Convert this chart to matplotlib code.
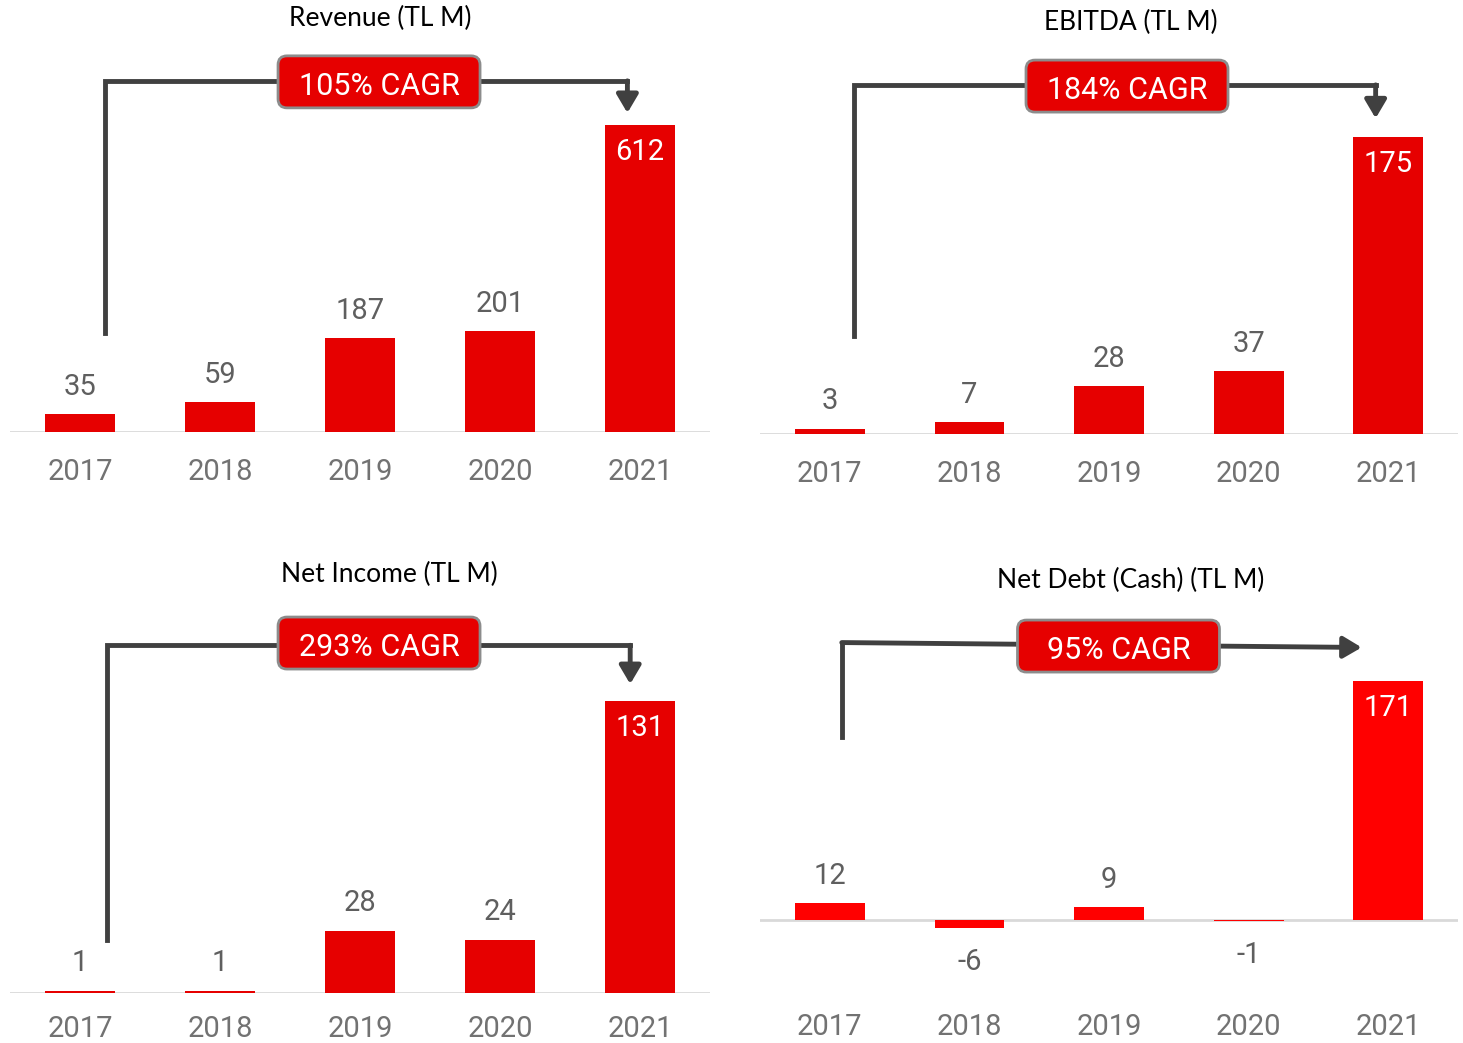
import matplotlib.pyplot as plt
from matplotlib.patches import FancyBboxPatch
from matplotlib.transforms import ScaledTranslation

W, H = 1463, 1043

years = ['2017', '2018', '2019', '2020', '2021']
revenue = [35, 59, 187, 201, 612]
ebitda = [3, 7, 28, 37, 175]
net_income = [1, 1, 28, 24, 131]
net_debt = [12, -6, 9, -1, 171]

titles = ['Revenue (TL M)', 'EBITDA (TL M)', 'Net Income (TL M)', 'Net Debt (Cash) (TL M)']
cagr_labels = ['105% CAGR', '184% CAGR', '293% CAGR', '95% CAGR']

RED = '#E60000'
BRIGHT_RED = '#FF0000'
DARK = '#404040'
GREY_TXT = '#5F5F5F'
YEAR_TXT = '#727272'

plt.rcParams['font.family'] = ['Roboto', 'DejaVu Sans']

fig = plt.figure(figsize=(W / 100, H / 100), dpi=100)
fig.patch.set_facecolor('white')


def panel(box, ppu, values, color, title, title_xy, cagr, cagr_xy, bracket, pad=18.5):
    # box = (left, right, top, bottom, baseline) in pixels, ppu = pixels per unit
    left, right, top, bottom, base = box
    ax = fig.add_axes([left / W, 1 - bottom / H, (right - left) / W, (bottom - top) / H])
    ax.set_xlim(-0.5, 4.5)
    ax.set_ylim(-(bottom - base) / ppu, (base - top) / ppu)
    for s in ax.spines.values():
        s.set_visible(False)
    ax.set_yticks([])
    ax.set_xticks(range(len(years)), years)
    ax.tick_params(axis='x', length=0, pad=pad, labelsize=21, labelcolor=YEAR_TXT)

    ax.axhline(0, color='#D9D9D9', lw=2, zorder=1)
    ax.bar(range(len(values)), values, width=0.5, color=color, zorder=2)

    vmax = max(values)
    for i, v in enumerate(values):
        if v == vmax:
            off, c = -25, 'white'
        elif v < 0:
            off, c = -30, GREY_TXT
        else:
            off, c = 14, GREY_TXT
        ax.annotate(str(v), (i, v), xytext=(0, off), textcoords='offset points',
                    ha='center', va='baseline', fontsize=21, color=c, zorder=5)

    # CAGR bracket with arrow into the last bar
    xs = [p[0] for p in bracket[:-1]]
    ys = [p[1] for p in bracket[:-1]]
    ax.plot(xs, ys, color=DARK, lw=3.5, solid_joinstyle='miter',
            solid_capstyle='projecting', zorder=3, clip_on=False)
    ax.annotate('', xy=bracket[-1], xytext=bracket[-2],
                arrowprops=dict(arrowstyle='-|>,head_length=1.1,head_width=0.65',
                                color=DARK, lw=3.5, shrinkA=0, shrinkB=0,
                                mutation_scale=10),
                zorder=3, annotation_clip=False)

    cx, cy = cagr_xy
    tr = fig.dpi_scale_trans + ScaledTranslation(cx, cy, ax.transData)
    ax.add_patch(FancyBboxPatch((-1.01, -0.26), 2.02, 0.52,
                                boxstyle='round,pad=0,rounding_size=0.09',
                                fc=RED, ec='#8C8C8C', lw=2, transform=tr,
                                zorder=4, clip_on=False))
    ax.annotate(cagr, (cx, cy), xytext=(0, -3), textcoords='offset points',
                ha='center', va='center', fontsize=22, color='white', zorder=5,
                annotation_clip=False)

    fig.text(title_xy[0] / W, 1 - title_xy[1] / H, title, ha='center', va='center',
             fontsize=19, family=['Lato', 'DejaVu Sans'], color='black')
    return ax


panel((10, 710, 40, 432, 432), 307 / 612, revenue, RED, titles[0], (380, 18),
      cagr_labels[0], (2.136, 698),
      [(0.18, 197), (0.18, 700), (3.91, 700), (3.91, 636)])
panel((760, 1458, 40, 434, 434), 297 / 175, ebitda, RED, titles[1], (1131, 22),
      cagr_labels[1], (2.129, 205),
      [(0.17, 57.7), (0.17, 205.7), (3.91, 205.7), (3.91, 186)])
panel((10, 710, 600, 993, 993), 292 / 131, net_income, RED, titles[2], (389, 574),
      cagr_labels[2], (2.136, 157),
      [(0.19, 23.8), (0.19, 156), (3.93, 156), (3.93, 138.6)], pad=15.5)
panel((760, 1458, 600, 991, 920), 239 / 171, net_debt, BRIGHT_RED, titles[3], (1131, 580),
      cagr_labels[3], (2.068, 196),
      [(0.086, 131), (0.086, 198.5), (3.81, 195)], pad=15.5)

fig.savefig('out.png', dpi=100, facecolor='white')
